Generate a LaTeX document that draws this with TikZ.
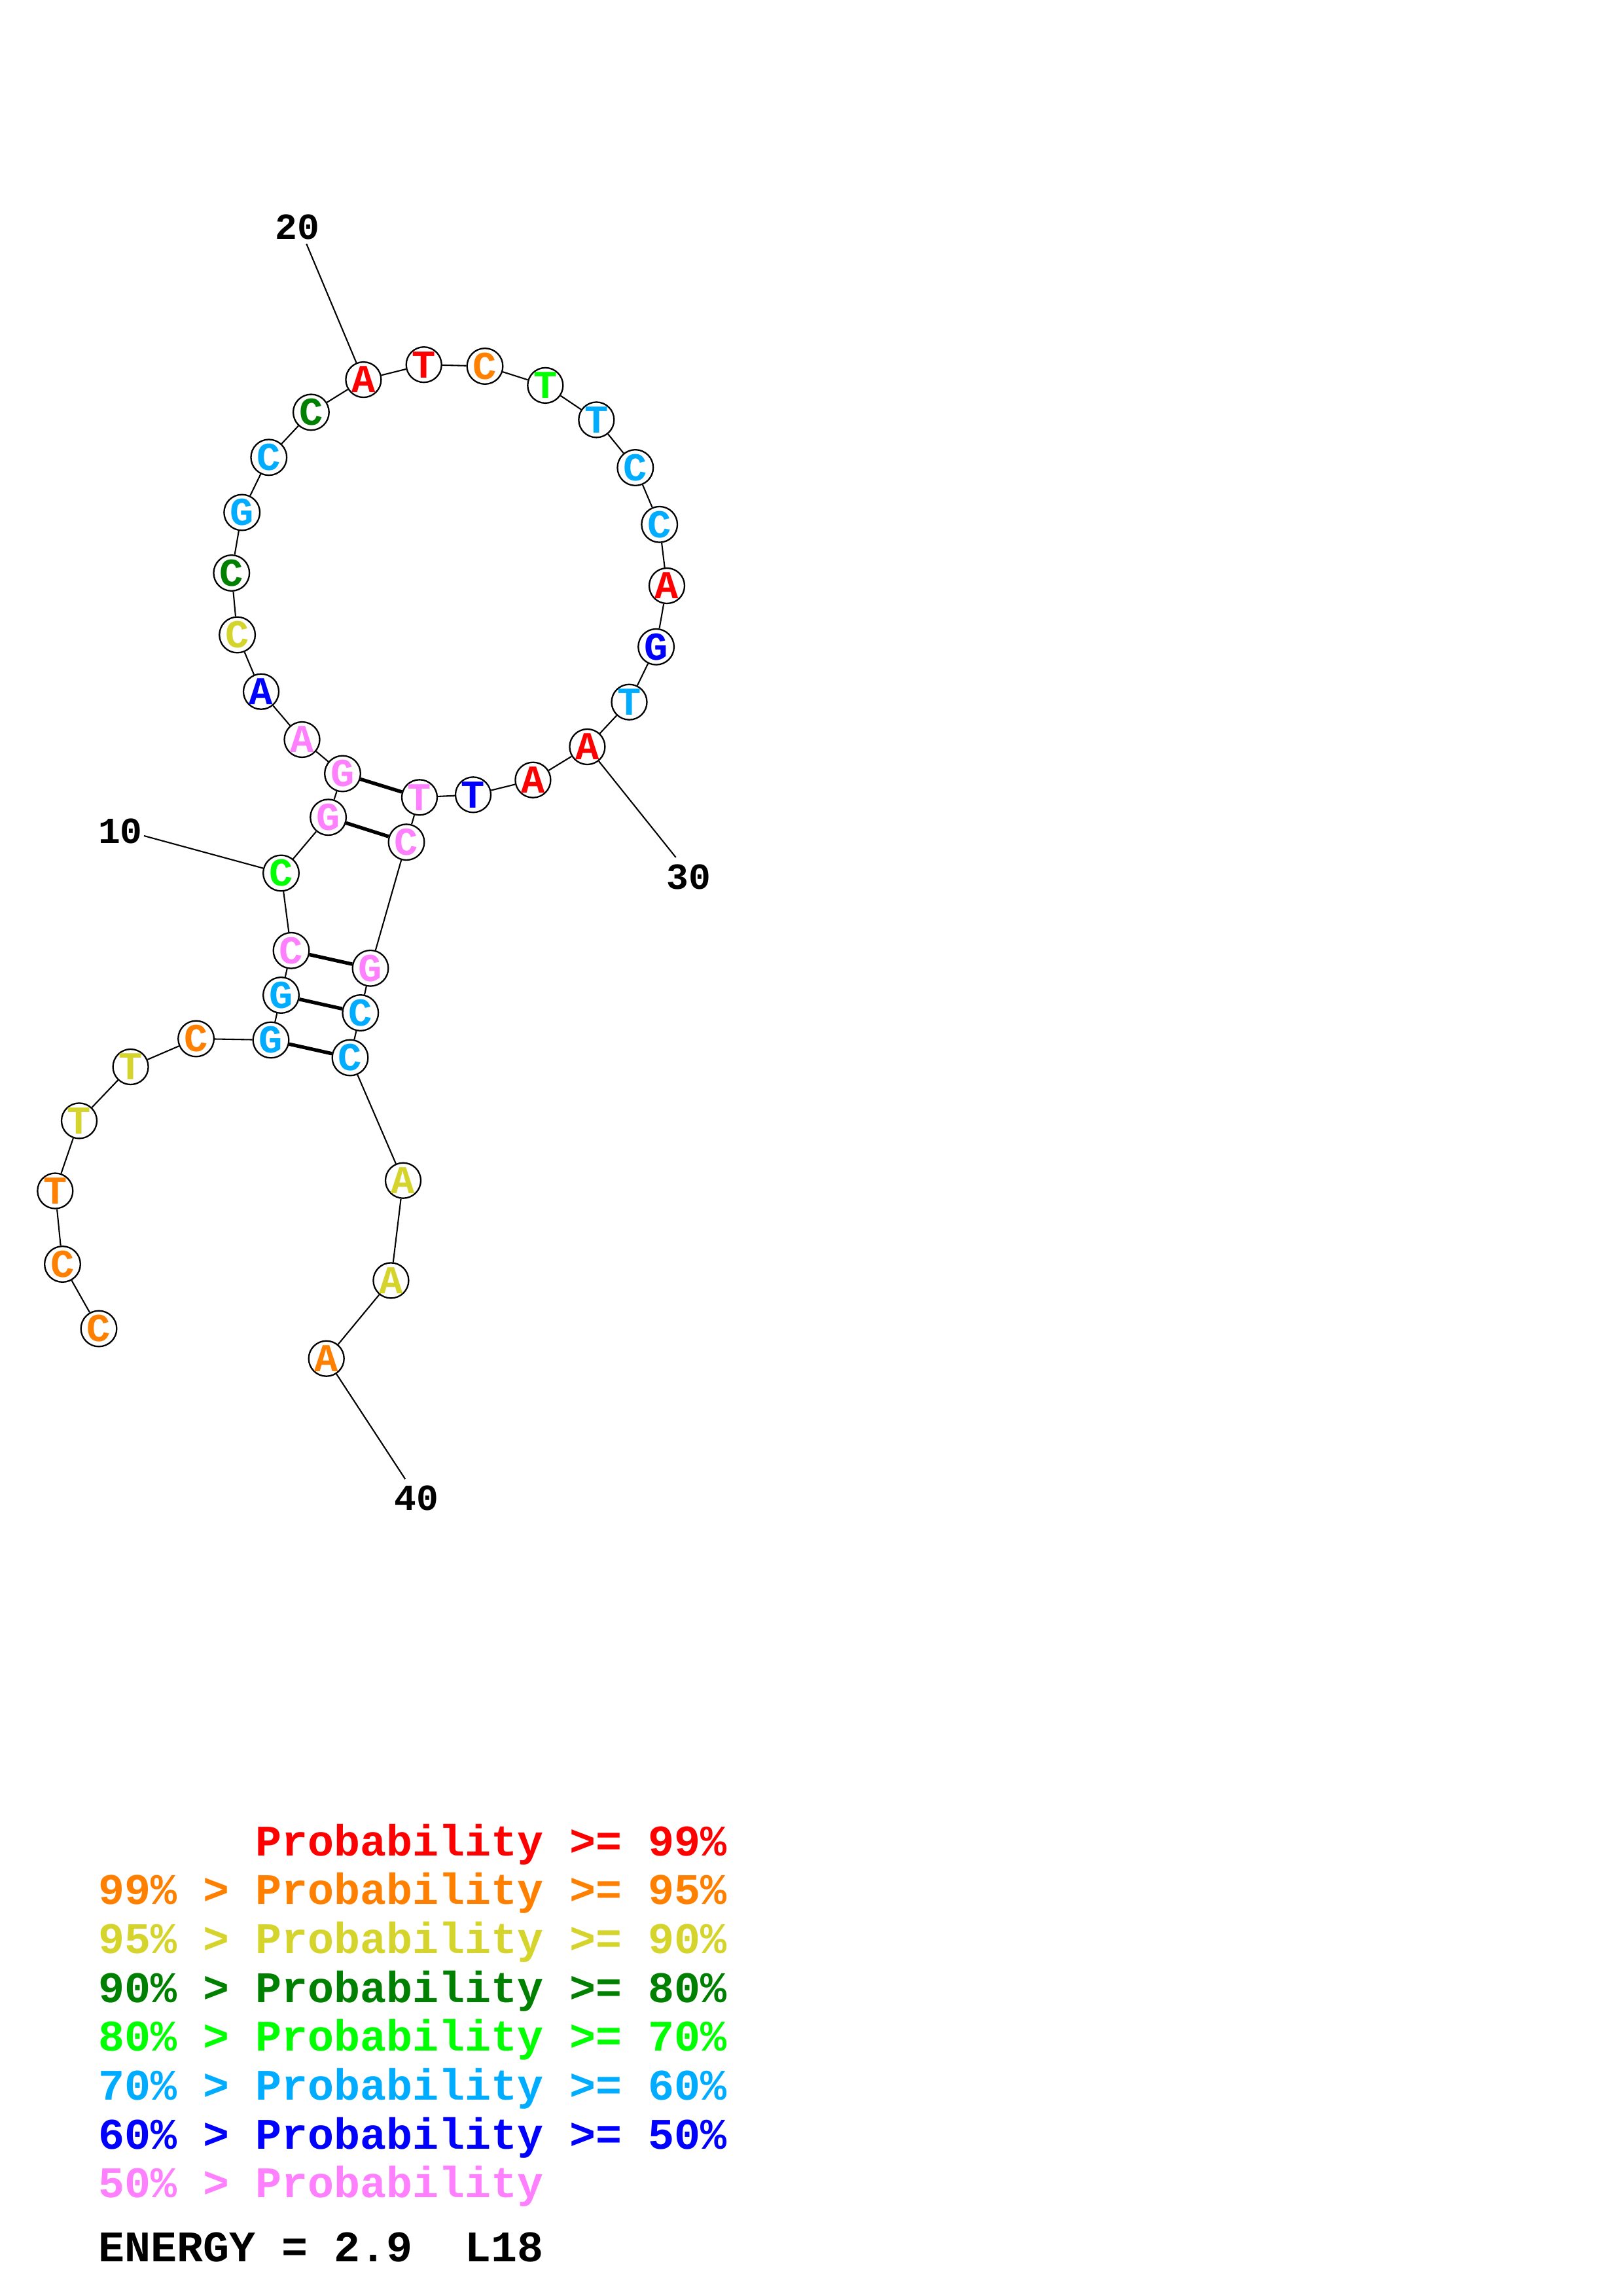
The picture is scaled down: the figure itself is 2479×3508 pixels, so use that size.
\documentclass[tikz,border=0pt]{standalone}
\usepackage{fontspec}
\newfontfamily\cour{Liberation Mono}
\definecolor{pr}{RGB}{255,0,0}
\definecolor{po}{RGB}{255,128,0}
\definecolor{py}{RGB}{212,212,44}
\definecolor{pdg}{RGB}{0,128,0}
\definecolor{pg}{RGB}{0,255,0}
\definecolor{pc}{RGB}{0,172,255}
\definecolor{pb}{RGB}{0,0,255}
\definecolor{pp}{RGB}{255,128,255}
\begin{document}
\begin{tikzpicture}[x=0.24pt,y=-0.24pt,
  nt/.style={circle,draw=black,line width=0.55pt,fill=white,minimum size=12.96pt,inner sep=0pt,
    font=\cour\bfseries\fontsize{14.5}{14.5}\selectfont},
  numlab/.style={inner sep=0pt,font=\cour\bfseries\fontsize{13.5}{13.5}\selectfont},
  bb/.style={line width=0.5pt,draw=black},
  bp/.style={line width=1.3pt,draw=black},
  lg/.style={anchor=base west,inner sep=0pt,font=\cour\bfseries\fontsize{16}{16}\selectfont}]
\useasboundingbox (0,0) rectangle (2479,3508);
% nucleotides
\node[nt,text=po]  (n1)  at (151,2030) {C};
\node[nt,text=po]  (n2)  at (95.5,1931.5) {C};
\node[nt,text=po]  (n3)  at (84.3,1819.5) {T};
\node[nt,text=py]  (n4)  at (121,1712.4) {T};
\node[nt,text=py]  (n5)  at (199.6,1630) {T};
\node[nt,text=po]  (n6)  at (299.6,1587) {C};
\node[nt,text=pc]  (n7)  at (414,1589) {G};
\node[nt,text=pc]  (n8)  at (429.5,1520.5) {G};
\node[nt,text=pp]  (n9)  at (445,1452.3) {C};
\node[nt,text=pg]  (n10) at (429.5,1334) {C};
\node[nt,text=pp]  (n11) at (501.6,1248.7) {G};
\node[nt,text=pp]  (n12) at (523.5,1182) {G};
\node[nt,text=pp]  (n13) at (461.5,1130) {A};
\node[nt,text=pb]  (n14) at (399,1056.7) {A};
\node[nt,text=py]  (n15) at (362.6,970) {C};
\node[nt,text=pdg] (n16) at (353.8,875.5) {C};
\node[nt,text=pc]  (n17) at (369.7,783) {G};
\node[nt,text=pc]  (n18) at (410.8,698.8) {C};
\node[nt,text=pdg] (n19) at (475.4,629.9) {C};
\node[nt,text=pr]  (n20) at (555.4,580.1) {A};
\node[nt,text=pr]  (n21) at (647.7,557.2) {T};
\node[nt,text=po]  (n22) at (741,559.5) {C};
\node[nt,text=pg]  (n23) at (833.3,588.9) {T};
\node[nt,text=pc]  (n24) at (911.3,641.4) {T};
\node[nt,text=pc]  (n25) at (970.8,714.5) {C};
\node[nt,text=pc]  (n26) at (1007.7,801.3) {C};
\node[nt,text=pr]  (n27) at (1019,895) {A};
\node[nt,text=pb]  (n28) at (1002.6,988.3) {G};
\node[nt,text=pc]  (n29) at (961.5,1072.7) {T};
\node[nt,text=pr]  (n30) at (897.4,1141) {A};
\node[nt,text=pr]  (n31) at (814.4,1191.7) {A};
\node[nt,text=pb]  (n32) at (723,1214.3) {T};
\node[nt,text=pp]  (n33) at (641,1218.3) {T};
\node[nt,text=pp]  (n34) at (621,1286.7) {C};
\node[nt,text=pp]  (n35) at (566,1479.3) {G};
\node[nt,text=pc]  (n36) at (550.8,1547.5) {C};
\node[nt,text=pc]  (n37) at (535,1616) {C};
\node[nt,text=py]  (n38) at (616,1803.7) {A};
\node[nt,text=py]  (n39) at (597.4,1956.4) {A};
\node[nt,text=po]  (n40) at (498.7,2075.7) {A};
% backbone
\foreach \i [evaluate=\i as \j using int(\i+1)] in {1,...,39}
  \draw[bb] (n\i) -- (n\j);
% base pairs
\draw[bp] (n12) -- (n33);
\draw[bp] (n11) -- (n34);
\draw[bp] (n9) -- (n35);
\draw[bp] (n8) -- (n36);
\draw[bp] (n7) -- (n37);
% number labels
\node[numlab] (l10) at (184,1270) {10};
\node[numlab] (l20) at (454,346.5) {20};
\node[numlab] (l30) at (1052,1339.5) {30};
\node[numlab] (l40) at (636,2288.5) {40};
\coordinate (c10) at (220,1277);
\coordinate (c20) at (468.3,372.7);
\coordinate (c30) at (1032.7,1310);
\coordinate (c40) at (619.3,2260);
\draw[bb] (c10) -- (n10);
\draw[bb] (c20) -- (n20);
\draw[bb] (c30) -- (n30);
\draw[bb] (c40) -- (n40);
% legend
\node[lg,text=pr]  (g1) at (390,2835) {Probability >= 99\%};
\node[lg,text=po]  (g2) at (150,2909.7) {99\% > Probability >= 95\%};
\node[lg,text=py]  (g3) at (150,2984.4) {95\% > Probability >= 90\%};
\node[lg,text=pdg] (g4) at (150,3059.1) {90\% > Probability >= 80\%};
\node[lg,text=pg]  (g5) at (150,3133.8) {80\% > Probability >= 70\%};
\node[lg,text=pc]  (g6) at (150,3208.5) {70\% > Probability >= 60\%};
\node[lg,text=pb]  (g7) at (150,3283.2) {60\% > Probability >= 50\%};
\node[lg,text=pp]  (g8) at (150,3357.9) {50\% > Probability};
\node[lg,text=black] (g9) at (150,3455) {ENERGY = 2.9\ \ L18};
\end{tikzpicture}
\end{document}
